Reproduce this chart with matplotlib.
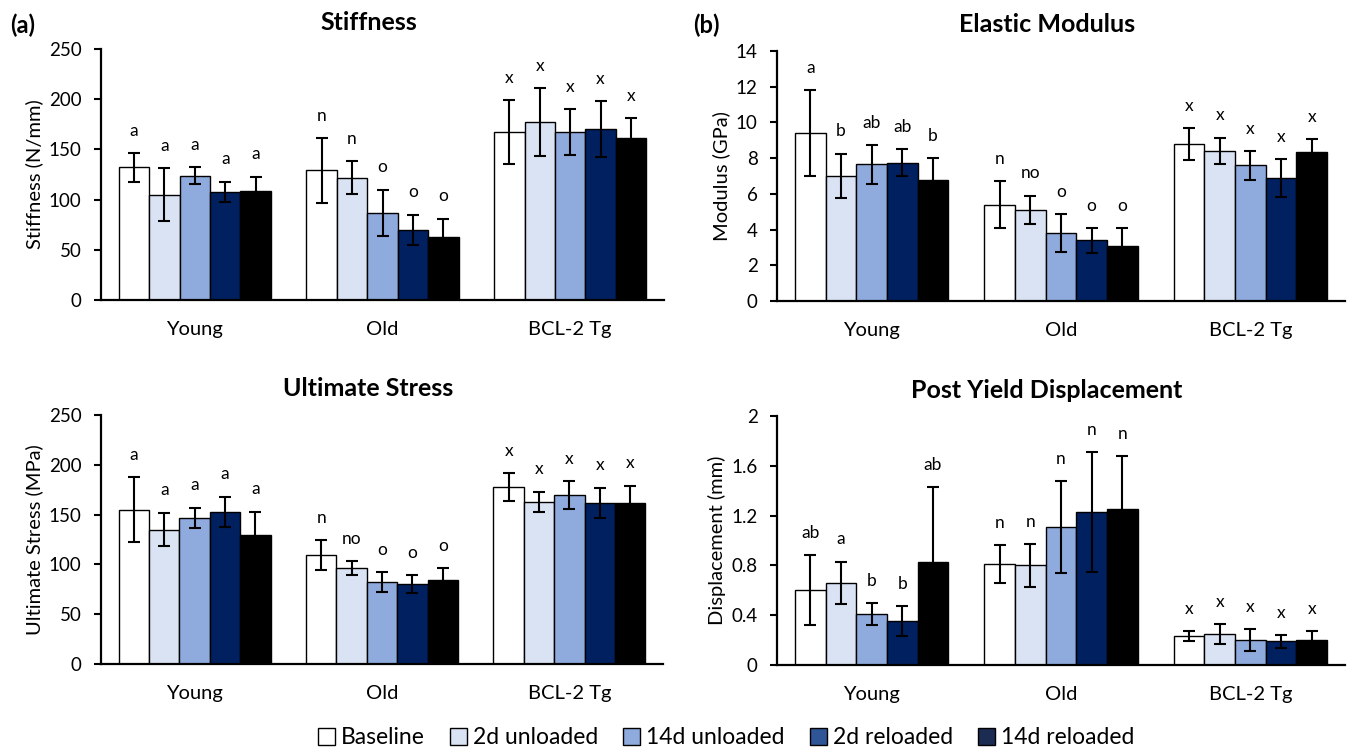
import numpy as np
import matplotlib
matplotlib.use('Agg')
from matplotlib import pyplot as plt
from matplotlib.patches import Patch

plt.rcParams['font.family'] = ['Lato', 'DejaVu Sans']

groups = ['Young', 'Old', 'BCL-2 Tg']
conditions = ['Baseline', '2d unloaded', '14d unloaded', '2d reloaded', '14d reloaded']

# rows = condition, columns = group
stiff_mean = [[132, 129, 167], [105, 122, 177], [124, 87, 167], [108, 70, 170], [109, 63, 161]]
stiff_err = [[14, 32, 32], [26, 16, 34], [8, 23, 23], [10, 15, 28], [14, 18, 20]]
stiff_sig = [['a', 'n', 'x'], ['a', 'n', 'x'], ['a', 'o', 'x'], ['a', 'o', 'x'], ['a', 'o', 'x']]

mod_mean = [[9.4, 5.4, 8.8], [7.0, 5.1, 8.4], [7.65, 3.8, 7.6], [7.75, 3.4, 6.9], [6.8, 3.1, 8.35]]
mod_err = [[2.4, 1.3, 0.9], [1.25, 0.8, 0.75], [1.1, 1.05, 0.8], [0.75, 0.7, 1.05], [1.2, 1.0, 0.7]]
mod_sig = [['a', 'n', 'x'], ['b', 'no', 'x'], ['ab', 'o', 'x'], ['ab', 'o', 'x'], ['b', 'o', 'x']]

stress_mean = [[155, 109, 178], [135, 96, 163], [147, 82, 170], [153, 80, 162], [130, 84, 162]]
stress_err = [[33, 15, 14], [17, 7, 10], [10, 10, 14], [15, 9, 15], [23, 12, 17]]
stress_sig = [['a', 'n', 'x'], ['a', 'no', 'x'], ['a', 'o', 'x'], ['a', 'o', 'x'], ['a', 'o', 'x']]

disp_mean = [[0.60, 0.81, 0.23], [0.66, 0.80, 0.25], [0.41, 1.11, 0.20], [0.35, 1.23, 0.19], [0.83, 1.25, 0.20]]
disp_err = [[0.28, 0.15, 0.04], [0.17, 0.17, 0.08], [0.09, 0.37, 0.09], [0.12, 0.48, 0.05], [0.60, 0.43, 0.07]]
disp_sig = [['ab', 'n', 'x'], ['a', 'n', 'x'], ['b', 'n', 'x'], ['b', 'n', 'x'], ['ab', 'n', 'x']]

bar_colors = ['#ffffff', '#dae3f3', '#8faadc', '#002060', '#000000']
legend_colors = ['#ffffff', '#dae3f3', '#8faadc', '#2f5597', '#1c2b52']

panels = [
    ('Stiffness', 'Stiffness (N/mm)', stiff_mean, stiff_err, stiff_sig, (0, 250), np.arange(0, 251, 50), False),
    ('Elastic Modulus', 'Modulus (GPa)', mod_mean, mod_err, mod_sig, (0, 14), np.arange(0, 15, 2), False),
    ('Ultimate Stress', 'Ultimate Stress (MPa)', stress_mean, stress_err, stress_sig, (0, 250), np.arange(0, 251, 50), False),
    ('Post Yield Displacement', 'Displacement (mm)', disp_mean, disp_err, disp_sig, (0, 2), np.arange(0, 2.01, 0.4), True),
]

W, H = 1352, 752
boxes = [(101, 664, 49, 300), (777, 1345, 51, 301), (101, 663, 415, 664), (777, 1345, 416, 665)]

fig = plt.figure(figsize=(W / 100, H / 100), dpi=100)
x = np.arange(len(groups))
bw = 0.162

for (title, ylabel, mean, err, sig, ylim, yticks, decimals), (l, r, t, b) in zip(panels, boxes):
    ax = fig.add_axes([l / W, 1 - b / H, (r - l) / W, (b - t) / H])
    for i in range(len(conditions)):
        xs = x + (i - 2) * bw
        ax.bar(xs, mean[i], bw, color=bar_colors[i], edgecolor='black', linewidth=1.0, zorder=2)
        ax.errorbar(xs, mean[i], yerr=err[i], fmt='none', ecolor='black', elinewidth=1.5,
                    capsize=4, capthick=1.5, zorder=3)
        for xi, m, e, s in zip(xs, mean[i], err[i], sig[i]):
            ax.annotate(s, (xi, m + e), xytext=(0, 16), textcoords='offset points',
                        ha='center', va='center', fontsize=12.5)
    ax.set_xlim(-0.5, 2.5)
    ax.set_ylim(*ylim)
    ax.set_yticks(yticks)
    if decimals:
        ax.set_yticklabels(['0'] + ['{:.1f}'.format(v) for v in yticks[1:-1]] + ['2'])
    ax.set_xticks(x)
    ax.set_xticklabels(groups)
    ax.tick_params(axis='x', length=0, pad=15, labelsize=14.5)
    ax.tick_params(axis='y', length=5, width=1.5, labelsize=13.5, pad=9)
    for sp in ['top', 'right']:
        ax.spines[sp].set_visible(False)
    for sp in ['left', 'bottom']:
        ax.spines[sp].set_linewidth(1.6)
    ax.set_ylabel(ylabel, fontsize=14.5, labelpad=4)
    ax.text(0.475, 1.0 + 26 / (b - t), title, transform=ax.transAxes, ha='center', va='center',
            fontsize=18, fontweight='bold')

fig.text(10 / W, 1 - 25 / H, '(a)', fontsize=17, fontweight='bold', ha='left', va='center')
fig.text(693 / W, 1 - 25 / H, '(b)', fontsize=17, fontweight='bold', ha='left', va='center')

handles = [Patch(facecolor=c, edgecolor='black', linewidth=1.0) for c in legend_colors]
fig.legend(handles, conditions, loc='center', bbox_to_anchor=(726 / W, 1 - 738 / H), ncol=5,
           frameon=False, fontsize=16.5, handlelength=0.75, handleheight=0.75, handletextpad=0.25,
           columnspacing=1.1, borderpad=0)

fig.savefig('out.png', dpi=100)
